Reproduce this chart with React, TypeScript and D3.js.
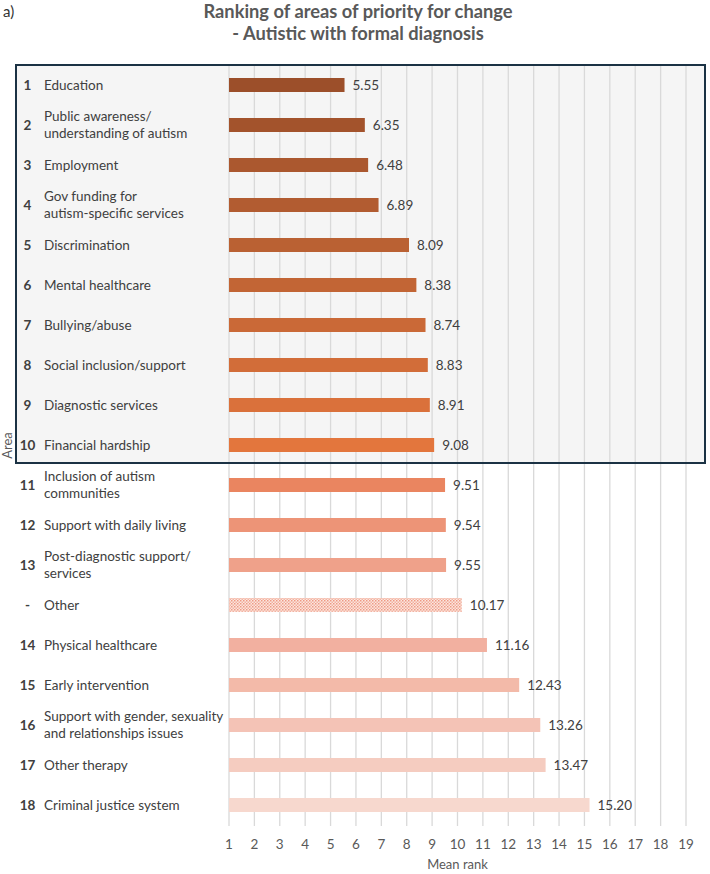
import React from "react";
import * as d3 from "d3";

// ranks shown at the left ("-" = Other, not ranked)
const ranks = ["1", "2", "3", "4", "5", "6", "7", "8", "9", "10", "11", "12", "13", "-", "14", "15", "16", "17", "18"];

// area labels, split into lines as in the original
const areas = [
  ["Education"],
  ["Public awareness/", "understanding of autism"],
  ["Employment"],
  ["Gov funding for", "autism-specific services"],
  ["Discrimination"],
  ["Mental healthcare"],
  ["Bullying/abuse"],
  ["Social inclusion/support"],
  ["Diagnostic services"],
  ["Financial hardship"],
  ["Inclusion of autism", "communities"],
  ["Support with daily living"],
  ["Post-diagnostic support/", "services"],
  ["Other"],
  ["Physical healthcare"],
  ["Early intervention"],
  ["Support with gender, sexuality", "and relationships issues"],
  ["Other therapy"],
  ["Criminal justice system"],
];

const meanRank = [5.55, 6.35, 6.48, 6.89, 8.09, 8.38, 8.74, 8.83, 8.91, 9.08, 9.51, 9.54, 9.55, 10.17, 11.16, 12.43, 13.26, 13.47, 15.2];

const barColors = [
  "#9c4f2a", "#a3532c", "#ab582f", "#b25c31", "#ba6133", "#c26535", "#ca6937",
  "#d26d39", "#da713b", "#e3763d", "#ea8560", "#ed9477", "#efa18a", "#f0a08a",
  "#f2b0a0", "#f3baa9", "#f4c3b6", "#f5ccc0", "#f7d8ce",
];

const xTicks = d3.range(1, 20);
const topN = 10; // boxed rows

export default function App() {
  const W = 710;
  const H = 874;
  const font = "Lato, 'Open Sans', sans-serif";
  const fs = 13.5;

  const x = d3.scaleLinear().domain([1, 19]).range([229, 686]);
  const y = d3.scalePoint<number>().domain(d3.range(meanRank.length)).range([85, 805]);
  const step = y.step();
  const barH = 14;

  const gridTop = y(0)! - step / 2;
  const gridBottom = y(meanRank.length - 1)! + step / 2 + 1;
  const boxTop = gridTop;
  const boxBottom = y(topN - 1)! + step / 2 - 2;

  return (
    <svg width={W} height={H} style={{ position: "absolute", left: 0, top: 0, background: "#fff" }} fontFamily={font}>
      <defs>
        <pattern id="dots" width="3" height="3" patternUnits="userSpaceOnUse">
          <rect width="3" height="3" fill="#fce6df" />
          <rect width="1.5" height="1.5" fill="#ee9a84" />
          <rect x="1.5" y="1.5" width="1.5" height="1.5" fill="#f3b3a2" />
        </pattern>
      </defs>

      <text x={3} y={17} fontSize={15} fill="#333">a)</text>
      <text x={358} y={18} textAnchor="middle" fontSize={18.3} fontWeight="bold" fill="#595959">
        Ranking of areas of priority for change
      </text>
      <text x={358} y={40} textAnchor="middle" fontSize={18.3} fontWeight="bold" fill="#595959">
        - Autistic with formal diagnosis
      </text>

      {/* highlighted box for top 10 */}
      <rect x={16} y={boxTop} width={689} height={boxBottom - boxTop} fill="#f5f5f5" />

      {/* vertical gridlines */}
      {xTicks.map((t) => (
        <line key={t} x1={x(t)} x2={x(t)} y1={gridTop} y2={gridBottom} stroke="#d9d9d9" strokeWidth={1.3} />
      ))}

      {meanRank.map((v, i) => {
        const cy = y(i)!;
        const lines = areas[i];
        const lh = 17;
        return (
          <g key={i}>
            <rect
              x={x(1)}
              y={cy - barH / 2}
              width={x(v) - x(1)}
              height={barH}
              fill={ranks[i] === "-" ? "url(#dots)" : barColors[i]}
            />
            <text x={x(v) + 8} y={cy} dy="0.35em" fontSize={fs} fill="#404040">
              {v.toFixed(2)}
            </text>
            <text x={27.5} y={cy} dy="0.35em" textAnchor="middle" fontSize={fs} fontWeight="bold" fill="#404040">
              {ranks[i]}
            </text>
            {lines.map((l, j) => (
              <text
                key={j}
                x={44}
                y={cy + (j - (lines.length - 1) / 2) * lh}
                dy="0.35em"
                fontSize={fs}
                fill="#404040"
              >
                {l}
              </text>
            ))}
          </g>
        );
      })}

      <rect x={16} y={boxTop} width={689} height={boxBottom - boxTop} fill="none" stroke="#1b3244" strokeWidth={2} />

      {/* x axis labels */}
      {xTicks.map((t) => (
        <text key={t} x={x(t)} y={844} dy="0.35em" textAnchor="middle" fontSize={fs} fill="#595959">
          {t}
        </text>
      ))}
      <text x={(x(1) + x(19)) / 2} y={864} dy="0.35em" textAnchor="middle" fontSize={13} fill="#595959">
        Mean rank
      </text>
      <text transform={`translate(7,${(gridTop + gridBottom) / 2}) rotate(-90)`} dy="0.35em" textAnchor="middle" fontSize={13} fill="#595959">
        Area
      </text>
    </svg>
  );
}
